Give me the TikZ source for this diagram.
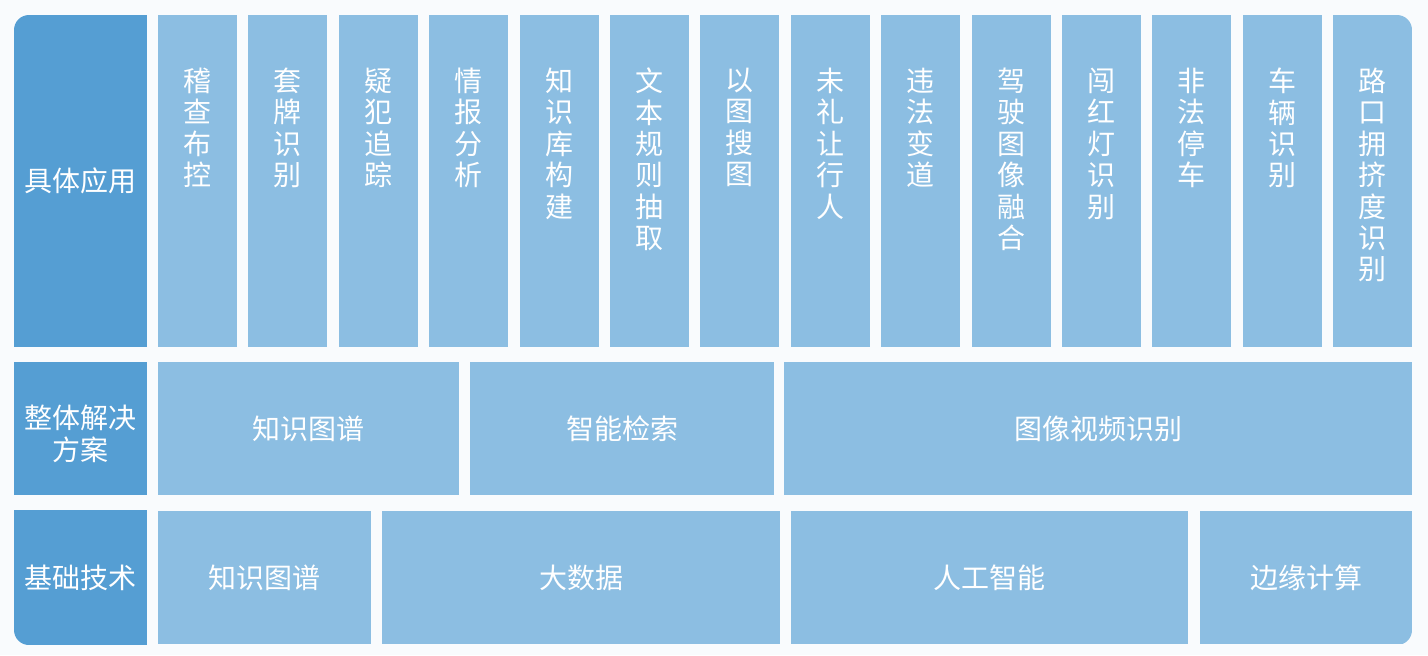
\documentclass[tikz,border=0pt]{standalone}
\usepackage{fontspec}
\setmainfont{Noto Sans CJK SC}
\usetikzlibrary{positioning}

\begin{document}
\begin{tikzpicture}[
  x=0.5pt,y=-0.5pt,
  font=\fontsize{14pt}{15.7pt}\selectfont,
  cat/.style={rectangle,fill=catblue,text=white,inner sep=0pt,align=center,
              minimum width=66.5pt,minimum height=#1*0.5pt},
  app/.style={rectangle,fill=appblue,inner sep=0pt,
              minimum width=39.5pt,minimum height=166pt},
  apptxt/.style={text=white,inner sep=0pt,align=center},
  sol/.style={rectangle,fill=appblue,text=white,inner sep=0pt,
              minimum width=#1*0.5pt,minimum height=66.5pt},
]
  \definecolor{catblue}{HTML}{559ED3}
  \definecolor{appblue}{HTML}{8CBEE2}
  \definecolor{bgcol}{HTML}{F9FBFD}

  \fill[bgcol] (0,0) rectangle (1428,655);
  \useasboundingbox (0,0) rectangle (1428,655);

  \begin{scope}
    % outer corners only
    \clip[rounded corners=7.5pt] (14,15) rectangle (1412,645);

    % left column
    \node[cat=332] (apps) at (80.5,181) {具体应用};
    \node[cat=133] (sols) at (80.5,428.5) {};
    \node[text=white,align=center,inner sep=0pt] (solstxt) at (80.5,434) {整体解决\\方案};
    \node[cat=135] (base) at (80.5,577.5) {基础技术};

    % applications
    \foreach \txt [count=\i] in {稽\\查\\布\\控, 套\\牌\\识\\别, 疑\\犯\\追\\踪,
        情\\报\\分\\析, 知\\识\\库\\构\\建, 文\\本\\规\\则\\抽\\取,
        以\\图\\搜\\图, 未\\礼\\让\\行\\人, 违\\法\\变\\道,
        驾\\驶\\图\\像\\融\\合, 闯\\红\\灯\\识\\别, 非\\法\\停\\车,
        车\\辆\\识\\别, 路\\口\\拥\\挤\\度\\识\\别}{
      \node[app] (a\i) at ({197.5+90.4*(\i-1)},181) {};
      \node[apptxt,below=26.5pt of a\i.north] (t\i) {\txt};
    }

    % solutions
    \node[sol=301] (kg)  at (308.5,428.5) {知识图谱};
    \node[sol=304] (ir)  at (622,428.5)   {智能检索};
    \node[sol=628] (vid) at (1098,428.5)  {图像视频识别};

    % technologies
    \node[sol=213] (kg2) at (264.5,577.5) {知识图谱};
    \node[sol=398] (bd)  at (581,577.5)   {大数据};
    \node[sol=397] (ai)  at (989.5,577.5) {人工智能};
    \node[sol=212] (ec)  at (1306,577.5)  {边缘计算};
  \end{scope}
\end{tikzpicture}
\end{document}
